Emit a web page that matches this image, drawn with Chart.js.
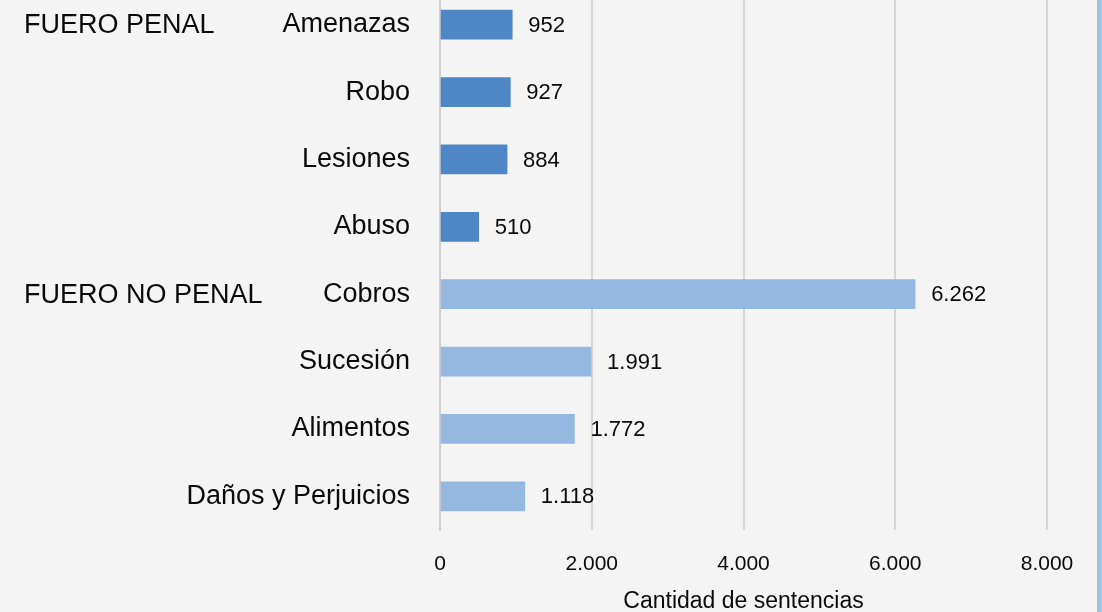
<!DOCTYPE html>
<html>
<head>
<meta charset="utf-8">
<script src="https://cdn.jsdelivr.net/npm/chart.js@4/dist/chart.umd.min.js"></script>
<style>
  html, body { margin: 0; padding: 0; background: #f4f4f4; }
  #wrap { position: relative; width: 1102px; height: 612px; overflow: hidden; box-sizing: border-box; border-right: 5px solid #9CC2E5; background: #f4f4f4; }
  #box { position: absolute; left: 0; top: -9px; width: 1097px; height: 624px; }
</style>
</head>
<body>
<div id="wrap"><div id="box"><canvas id="c"></canvas></div></div>
<script>
const categories = ["Amenazas", "Robo", "Lesiones", "Abuso", "Cobros", "Sucesión", "Alimentos", "Daños y Perjuicios"];
const values = [952, 927, 884, 510, 6262, 1991, 1772, 1118];
const groupOf = ["penal", "penal", "penal", "penal", "nopenal", "nopenal", "nopenal", "nopenal"];
const groupLabels = [{ text: "FUERO PENAL", index: 0 }, { text: "FUERO NO PENAL", index: 4 }];
const xTicks = [0, 2000, 4000, 6000, 8000];
const axisTitle = "Cantidad de sentencias";
const groupColors = { penal: "#4F86C6", nopenal: "#95B8E0" };

const FONT = "'Liberation Sans', Arial, sans-serif";
const fmt = v => String(v).replace(/\B(?=(\d{3})+(?!\d))/g, ".");

const labelPlugin = {
  id: "valueLabels",
  afterDatasetsDraw(chart) {
    const ctx = chart.ctx;
    ctx.save();
    ctx.fillStyle = "#0a0a0a";
    ctx.font = "22px " + FONT;
    ctx.textBaseline = "middle";
    ctx.textAlign = "left";
    chart.getDatasetMeta(0).data.forEach((bar, i) => {
      ctx.fillText(fmt(values[i]), bar.x + 16, bar.y + 1);
    });
    const ys = chart.scales.y;
    ctx.font = "27px " + FONT;
    groupLabels.forEach(g => {
      ctx.fillText(g.text, 24, ys.getPixelForValue(g.index) + 1);
    });
    ctx.restore();
  }
};

new Chart(document.getElementById("c"), {
  type: "bar",
  data: {
    labels: categories,
    datasets: [{
      data: values,
      backgroundColor: groupOf.map(g => groupColors[g]),
      barThickness: 29,
      borderWidth: 0
    }]
  },
  options: {
    indexAxis: "y",
    responsive: true,
    maintainAspectRatio: false,
    animation: false,
    layout: { padding: { left: 0, right: 50, top: 0, bottom: 0 } },
    plugins: { legend: { display: false }, tooltip: { enabled: false }, title: { display: false } },
    scales: {
      x: {
        min: 0, max: 8000,
        afterBuildTicks(scale) { scale.ticks = xTicks.map(v => ({ value: v })); },
        grid: { color: "#d6d6d6", lineWidth: 2, drawTicks: false },
        border: { display: false },
        ticks: { color: "#0a0a0a", font: { family: FONT, size: 21 }, padding: 22, callback: v => fmt(v), maxRotation: 0, autoSkip: false },
        title: { display: true, text: axisTitle, color: "#0a0a0a", font: { family: FONT, size: 23 }, padding: { top: 10, bottom: 0 } },
        afterFit(scale) { scale.height = 85; }
      },
      y: {
        grid: { display: false, drawTicks: false },
        border: { display: true, color: "#cfcfcf", width: 2 },
        ticks: { color: "#0a0a0a", font: { family: FONT, size: 27 }, padding: 30 },
        afterFit(scale) { scale.width = 440; scale.paddingTop = 0; scale.paddingBottom = 0; }
      }
    }
  },
  plugins: [labelPlugin]
});
</script>
</body>
</html>
